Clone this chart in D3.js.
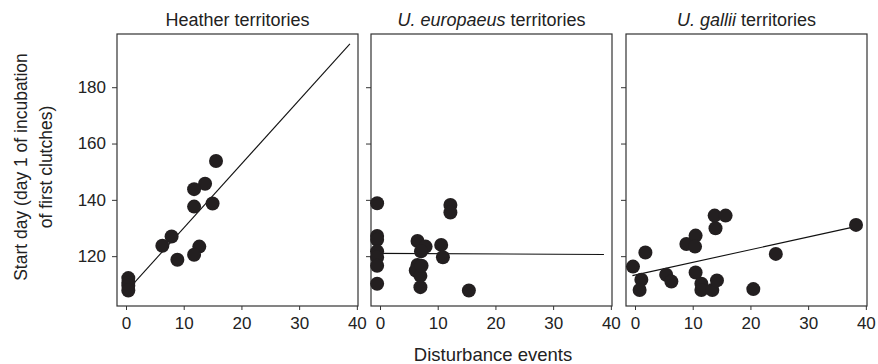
<!DOCTYPE html>
<html>
<head>
<meta charset="utf-8">
<script src="https://cdn.jsdelivr.net/npm/d3@7"></script>
<style>
  body { margin: 0; background: #fff; }
  svg { font-family: "Liberation Sans", Arial, sans-serif; }
</style>
</head>
<body>
<svg id="chart" width="878" height="364"></svg>
<script>
// disturbance events (x) and start day (y) per territory type
const heatherX = [15.6, 13.7, 11.8, 11.8, 15.0, 7.9, 6.3, 12.7, 11.8, 8.9, 0.4, 0.4, 0.4, 0.4];
const heatherY = [153.8, 145.7, 143.8, 137.6, 138.7, 127.0, 123.7, 123.4, 120.5, 118.7, 112.2, 110.6, 109.5, 107.8];

const europaeusX = [-0.5, -0.5, -0.5, -0.5, -0.5, -0.5, -0.5, 6.5, 7.9, 7.1, 6.5, 6.2, 7.0, 7.0, 10.6, 10.9, 12.2, 12.2, 15.4, 7.2];
const europaeusY = [138.8, 127.2, 125.8, 121.7, 119.5, 116.6, 110.2, 125.4, 123.4, 121.7, 116.9, 114.9, 113.0, 109.0, 124.0, 119.6, 138.2, 135.5, 107.8, 116.6];

const galliiX = [-0.35, 1.8, 1.1, 0.8, 5.4, 6.3, 8.9, 10.5, 10.4, 10.5, 11.5, 11.5, 13.4, 14.2, 13.95, 13.8, 15.7, 20.5, 24.4, 38.3];
const galliiY = [116.3, 121.3, 111.6, 108.0, 113.4, 111.0, 124.3, 127.3, 123.4, 114.2, 110.2, 108.0, 108.0, 111.4, 129.9, 134.4, 134.4, 108.3, 120.8, 131.1];

// fitted lines: [x start, x end], [y start, y end]
const heatherFitX = [0.4, 38.8];
const heatherFitY = [108.2, 195.4];
const europaeusFitX = [-0.5, 38.8];
const europaeusFitY = [121.0, 120.6];
const galliiFitX = [-0.45, 37.8];
const galliiFitY = [113.1, 130.3];

const xTicks = [0, 10, 20, 30, 40];
const yTicks = [120, 140, 160, 180];

const panels = [
  { title: [["Heather territories", false]], x: heatherX, y: heatherY, fx: heatherFitX, fy: heatherFitY },
  { title: [["U. europaeus", true], [" territories", false]], x: europaeusX, y: europaeusY, fx: europaeusFitX, fy: europaeusFitY },
  { title: [["U. gallii", true], [" territories", false]], x: galliiX, y: galliiY, fx: galliiFitX, fy: galliiFitY }
];

const svg = d3.select('#chart');
const panelLeft = [117, 371, 626];
const panelTop = 34, pw = 241, ph = 272;

const xScale = d3.scaleLinear().domain([-1.56, 40.2]).range([0, pw]);
const yScale = d3.scaleLinear().domain([102.3, 198.9]).range([ph, 0]);

panels.forEach((p, i) => {
  const g = svg.append('g').attr('transform', `translate(${panelLeft[i]}, ${panelTop})`);

  g.append('rect')
    .attr('x', 0).attr('y', 0)
    .attr('width', pw).attr('height', ph)
    .attr('fill', 'none')
    .attr('stroke', '#333')
    .attr('stroke-width', 1.2);

  const yAxis = g.append('g')
    .call(d3.axisLeft(yScale).tickValues(yTicks).tickSize(5).tickPadding(6)
      .tickFormat(i === 0 ? d3.format('d') : () => ''));
  yAxis.select('.domain').remove();
  yAxis.selectAll('line').attr('stroke', '#333');
  yAxis.selectAll('text').attr('font-size', 17).attr('fill', '#222')
    .attr('font-family', '"Liberation Sans", Arial, sans-serif');

  const xAxis = g.append('g')
    .attr('transform', `translate(0, ${ph})`)
    .call(d3.axisBottom(xScale).tickValues(xTicks).tickSize(4).tickPadding(7));
  xAxis.select('.domain').remove();
  xAxis.selectAll('line').attr('stroke', '#333');
  xAxis.selectAll('text').attr('font-size', 17).attr('fill', '#222')
    .attr('font-family', '"Liberation Sans", Arial, sans-serif');

  g.append('line')
    .attr('x1', xScale(p.fx[0])).attr('y1', yScale(p.fy[0]))
    .attr('x2', xScale(p.fx[1])).attr('y2', yScale(p.fy[1]))
    .attr('stroke', '#111').attr('stroke-width', 1.1);

  g.selectAll('circle')
    .data(p.x.map((d, k) => [d, p.y[k]]))
    .join('circle')
      .attr('cx', d => xScale(d[0]))
      .attr('cy', d => yScale(d[1]))
      .attr('r', 7)
      .attr('fill', '#231f20');

  const t = svg.append('text')
    .attr('x', panelLeft[i] + pw / 2)
    .attr('y', 26)
    .attr('text-anchor', 'middle')
    .attr('font-size', 18)
    .attr('fill', '#222');
  p.title.forEach(s => {
    t.append('tspan').text(s[0]).attr('font-style', s[1] ? 'italic' : 'normal');
  });
});

svg.append('text')
  .attr('x', 493).attr('y', 361)
  .attr('text-anchor', 'middle')
  .attr('font-size', 18.5)
  .attr('fill', '#222')
  .text('Disturbance events');

const yl = svg.append('text')
  .attr('transform', 'translate(27, 167) rotate(-90)')
  .attr('text-anchor', 'middle')
  .attr('font-size', 17.5)
  .attr('fill', '#222');
yl.append('tspan').attr('x', 0).attr('dy', 0).text('Start day (day 1 of incubation');
yl.append('tspan').attr('x', 0).attr('dy', 25).text('of first clutches)');
</script>
</body>
</html>
